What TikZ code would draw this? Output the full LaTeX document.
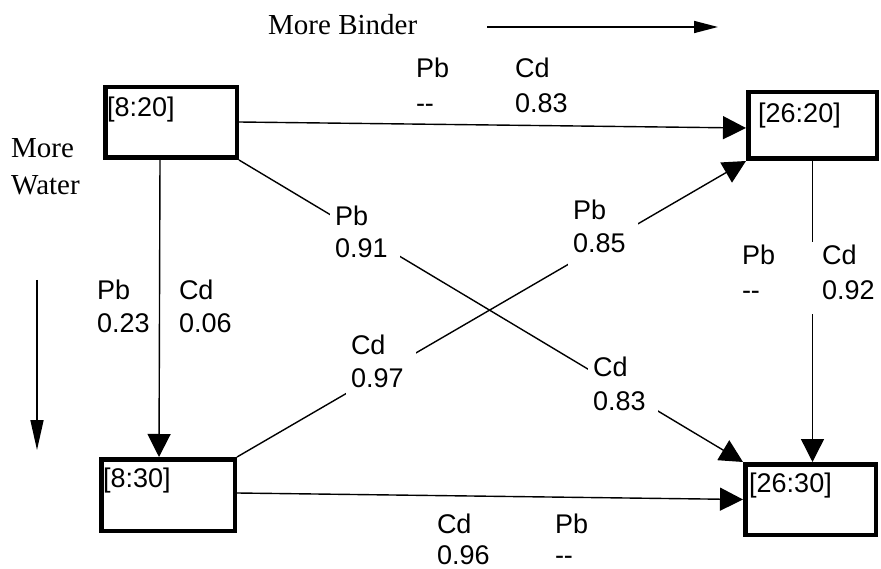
\documentclass[tikz,border=0pt]{standalone}
\usepackage{fontspec}
\newfontfamily\arialfont{Liberation Sans}
\newfontfamily\timesfont{Liberation Serif}
\usetikzlibrary{arrows.meta,calc}
\begin{document}
\begin{tikzpicture}[x=1pt,y=-1pt,
  box/.style={draw, line width=4.5pt, inner sep=0pt, outer sep=2.25pt},
  conn/.style={line width=1.4pt, -{Triangle[length=23pt,width=23pt]}},
  hint/.style={line width=1.6pt},
  lab/.style={font=\arialfont\fontsize{27}{32}\selectfont, anchor=base west, inner xsep=5pt, inner ysep=0pt, outer sep=0pt, text height=23pt, text depth=14pt},
  wlab/.style={lab, fill=white, text width=60pt, align=left},
  boxlab/.style={font=\arialfont\fontsize{27}{32}\selectfont, anchor=base west, inner sep=0pt},
  title/.style={font=\timesfont\fontsize{29}{34}\selectfont, anchor=base west, inner sep=0pt},
]
\path[fill=white, use as bounding box] (0,0) rectangle (881,569);

% boxes
\node[box, minimum width=131.5pt, minimum height=70.5pt] (a) at (171,122.5) {};
\node[box, minimum width=128.5pt, minimum height=66.5pt] (b) at (812.5,125.5) {};
\node[box, minimum width=133.5pt, minimum height=71.5pt] (c) at (168,495) {};
\node[box, minimum width=130.5pt, minimum height=70.5pt] (d) at (810.5,499.5) {};

\node[boxlab] (ta) at (107,117) {[8:20]};
\node[boxlab] (tb) at (758,123) {[26:20]};
\node[boxlab] (tc) at (103,487) {[8:30]};
\node[boxlab] (td) at (749,492) {[26:30]};

% connectors
\draw[conn] ($(a.east)+(0,-0.5)$) -- ($(b.west)+(0,2.5)$);
\draw[conn] (a.south east) -- (d.north west);
\draw[conn] ($(a.south)+(-11,0)$) -- ($(c.north)+(-9,0)$);
\draw[conn] (b.south) -- (b.south |- d.north);
\draw[conn] (c.north east) -- (b.south west);
\draw[conn] ($(c.east)+(0,-2)$) -- (d.west);

% labels
\node[lab] (pb1) at (411,78) {Pb};
\node[lab] (pb1v) at (411,113) {-{}-};
\node[lab] (cd1) at (510,78) {Cd};
\node[lab] (cd1v) at (510,113) {0.83};

\node[wlab] (pb2) at (330,226) {Pb};
\node[wlab] (pb2v) at (330,258) {0.91};
\node[wlab] (pb3) at (568,220) {Pb};
\node[wlab] (pb3v) at (568,253) {0.85};
\node[wlab] (cd2) at (346,355) {Cd};
\node[wlab] (cd2v) at (346,388) {0.97};
\node[wlab] (cd3) at (588,376) {Cd};
\node[wlab] (cd3v) at (588,410) {0.83};

\node[lab] (pb4) at (92,300) {Pb};
\node[lab] (pb4v) at (92,333) {0.23};
\node[lab] (cd4) at (174,300) {Cd};
\node[lab] (cd4v) at (174,333) {0.06};

\node[wlab, text width=70pt] (pb5) at (737,265) {Pb};
\node[wlab, text width=70pt] (pb5v) at (737,300) {-{}-};
\node[lab] (cd5) at (817,265) {Cd};
\node[lab] (cd5v) at (817,300) {0.92};

\node[lab] (cd6) at (432,533) {Cd};
\node[lab] (cd6v) at (432,564) {0.96};
\node[lab] (pb6) at (550,533) {Pb};
\node[lab] (pb6v) at (550,564) {-{}-};

% axis hints
\node[title] (mb) at (268,35) {More Binder};
\coordinate (mbs) at (487,27);
\coordinate (mbe) at (718,27);
\draw[hint, -{Triangle[length=24pt,width=12pt]}] (mbs) -- (mbe);

\node[title] (mw1) at (11,158) {More};
\node[title] (mw2) at (11,195) {Water};
\coordinate (mws) at (37,280);
\coordinate (mwe) at (37,450);
\draw[hint, -{Triangle[length=30pt,width=13pt]}] (mws) -- (mwe);
\end{tikzpicture}
\end{document}
